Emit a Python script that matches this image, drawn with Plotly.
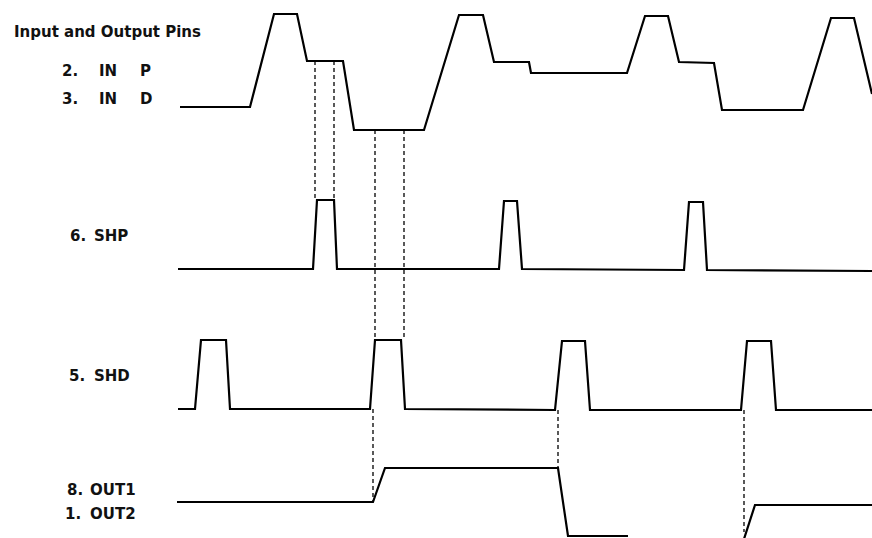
import plotly.graph_objects as go

# ---- waveform data (time units, level relative to each channel's baseline) ----
in_t = [180, 250, 274, 297, 307, 343, 354, 424, 459, 483, 494, 529, 531, 627,
        645, 668, 679, 714, 722, 803, 831, 854, 872]
in_v = [23, 23, 116, 116, 69, 69, 0, 0, 115, 115, 68, 68, 57, 57,
        114, 114, 68, 67, 20, 20, 112, 112, 36]

shp_t = [178, 313, 317, 334, 337, 499, 504, 517, 522, 684, 689, 703, 707, 872]
shp_v = [0, 0, 69, 69, 0, 0, 68, 68, 0, -1, 67, 67, -1, -2]

shd_t = [178, 195, 201, 226, 230, 370, 375, 401, 405, 555, 562, 585, 590,
         741, 747, 771, 776, 872]
shd_v = [0, 0, 69, 69, 0, 0, 69, 69, 0, -1, 68, 68, -1, -1, 68, 68, -1, -1]

out_t = [177, 373, 385, 558, 568, 628, None, 744, 755, 872]
out_v = [0, 0, 34, 34, -34, -34, None, -37, -3, -3]

# timing reference markers: time, (from channel, level), (to channel, level)
dash_t = [315, 334, 375, 404, 373, 558, 744]
dash_from_ch = ["in", "in", "in", "in", "shd", "shd", "shd"]
dash_from_v = [69, 69, 0, 0, 0, -1, -1]
dash_to_ch = ["shp", "shp", "shd", "shd", "out", "out", "out"]
dash_to_v = [69, 69, 69, 69, 0, 34, -30]

# label text
title_text = "Input and Output Pins"
label_nums = ["2.", "3.", "6.", "5.", "8.", "1."]
label_names = ["IN", "IN", "SHP", "SHD", "OUT1", "OUT2"]
label_suffix = ["P", "D", "", "", "", ""]

# ---- layout positions ----
W, H = 872, 538
base = {"in": H - 130, "shp": H - 269, "shd": H - 409, "out": H - 502}
label_y = [H - 71, H - 99, H - 236, H - 376, H - 490, H - 514]
num_x = [60, 60, 68, 67, 65, 63]
name_x = [97, 97, 92, 92, 88, 88]
suffix_x = 138

fig = go.Figure()

def add_wave(t, v, ch):
    y = [None if a is None else base[ch] + a for a in v]
    fig.add_trace(go.Scatter(x=t, y=y, mode="lines", connectgaps=False,
                             line=dict(color="#000000", width=2.2),
                             hoverinfo="skip", showlegend=False))

add_wave(in_t, in_v, "in")
add_wave(shp_t, shp_v, "shp")
add_wave(shd_t, shd_v, "shd")
add_wave(out_t, out_v, "out")

dx, dy = [], []
for t, fc, fv, tc, tv in zip(dash_t, dash_from_ch, dash_from_v, dash_to_ch, dash_to_v):
    dx += [t, t, None]
    dy += [base[fc] + fv, base[tc] + tv, None]
fig.add_trace(go.Scatter(x=dx, y=dy, mode="lines",
                         line=dict(color="#000000", width=1.3, dash="4px,3px"),
                         hoverinfo="skip", showlegend=False))

font = dict(family="DejaVu Sans", size=15, color="#111111", weight="bold")

fig.add_annotation(x=12, y=H - 32, text=title_text, showarrow=False,
                   xanchor="left", yanchor="middle", font=font)
for i in range(len(label_nums)):
    fig.add_annotation(x=num_x[i], y=label_y[i], text=label_nums[i], showarrow=False,
                       xanchor="left", yanchor="middle", font=font)
    fig.add_annotation(x=name_x[i], y=label_y[i], text=label_names[i], showarrow=False,
                       xanchor="left", yanchor="middle", font=font)
    if label_suffix[i]:
        fig.add_annotation(x=suffix_x, y=label_y[i], text=label_suffix[i], showarrow=False,
                           xanchor="left", yanchor="middle", font=font)

fig.update_layout(
    width=W, height=H,
    margin=dict(l=0, r=0, t=0, b=0),
    paper_bgcolor="#ffffff", plot_bgcolor="#ffffff",
    xaxis=dict(range=[0, W], visible=False, fixedrange=True),
    yaxis=dict(range=[0, H], visible=False, fixedrange=True),
    showlegend=False,
    hovermode=False,
)

fig.write_html("out.html",
               config={"displayModeBar": False, "staticPlot": True},
               post_script="document.body.style.margin='0px';"
                           "document.body.style.overflow='hidden';")
